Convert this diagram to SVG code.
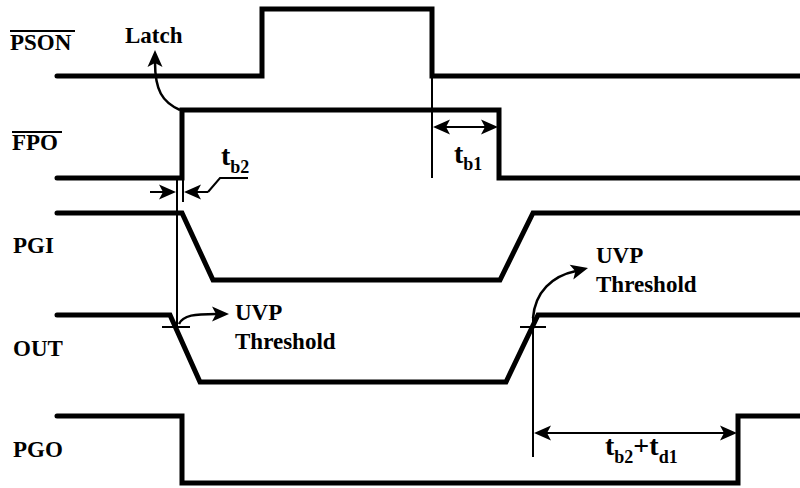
<svg xmlns="http://www.w3.org/2000/svg" xmlns:xlink="http://www.w3.org/1999/xlink" width="800" height="488" viewBox="0 0 800 488">
<style>
.w{fill:none;stroke:#000;stroke-width:5;stroke-linejoin:miter;stroke-linecap:round}
.t{fill:none;stroke:#000;stroke-width:2}
.c{fill:none;stroke:#000;stroke-width:2.5}
.lb{font-family:"Liberation Serif","Times New Roman",serif;font-weight:bold;font-size:23px;fill:#000}
.tl{font-family:"Liberation Serif","Times New Roman",serif;font-weight:bold;font-size:28px;fill:#000}
.sub{font-size:18px}
</style>
<defs>
<path id="head" d="M0,0 L-17,-7.5 L-13,0 L-17,7.5 z" fill="#000"/>
</defs>

<g id="PSON">
<text class="lb" x="10" y="50">PSON</text>
<line x1="10" y1="31" x2="75" y2="31" stroke="#000" stroke-width="2"/>
<polyline class="w" points="57,76 262,76 262,9 432,9 432,76 800,76"/>
</g>

<g id="FPO">
<text class="lb" x="12" y="150">FPO</text>
<line x1="12" y1="132" x2="62" y2="132" stroke="#000" stroke-width="2"/>
<polyline class="w" points="57,178 182,178 182,110 499,110 499,178 800,178"/>
</g>

<g id="PGI">
<text class="lb" x="13" y="253">PGI</text>
<polyline class="w" points="57,213 182,213 213,280 500,280 533,213 800,213"/>
</g>

<g id="OUT">
<text class="lb" x="13" y="356">OUT</text>
<polyline class="w" points="57,315 170,315 200,382 506,382 538,315 800,315"/>
</g>

<g id="PGO">
<text class="lb" x="13" y="457">PGO</text>
<polyline class="w" points="57,416 182,416 182,483 738,483 738,416 800,416"/>
</g>

<g id="connectors">
<text class="lb" x="125" y="43">Latch</text>
<path class="c" d="M180,110 C162,102 155,90 155,62"/>
<use xlink:href="#head" href="#head" transform="translate(155,50) rotate(-90)"/>

<line class="t" x1="432" y1="76" x2="432" y2="178"/>
<line class="t" x1="440" y1="127" x2="491" y2="127"/>
<use xlink:href="#head" href="#head" transform="translate(433,127) rotate(180)"/>
<use xlink:href="#head" href="#head" transform="translate(498,127)"/>
<text class="tl" x="454" y="163">t<tspan class="sub" dy="7">b1</tspan></text>

<line class="t" x1="177" y1="178" x2="177" y2="326"/>
<line class="t" x1="183" y1="178" x2="183" y2="202"/>
<line class="t" x1="150" y1="192" x2="170" y2="192"/>
<use xlink:href="#head" href="#head" transform="translate(176,192)"/>
<line class="t" x1="190" y1="192" x2="208" y2="192"/>
<use xlink:href="#head" href="#head" transform="translate(184,192) rotate(180)"/>
<polyline class="t" points="208,192 220,178 248,178"/>
<text class="tl" x="221" y="165">t<tspan class="sub" dy="8">b2</tspan></text>

<line class="t" x1="162" y1="327" x2="190" y2="327"/>
<path class="c" d="M179,324 C183,315 195,314 216,314"/>
<use xlink:href="#head" href="#head" transform="translate(229,314)"/>
<text class="lb" x="235" y="320">UVP</text>
<text class="lb" x="235" y="349">Threshold</text>

<line class="t" x1="520" y1="327" x2="546" y2="327"/>
<path class="c" d="M533,318 C535,292 552,276 576,271"/>
<use xlink:href="#head" href="#head" transform="translate(588,268) rotate(-14)"/>
<text class="lb" x="596" y="263">UVP</text>
<text class="lb" x="596" y="292">Threshold</text>

<line class="t" x1="533" y1="318" x2="533" y2="457"/>
<line class="t" x1="540" y1="433" x2="730" y2="433"/>
<use xlink:href="#head" href="#head" transform="translate(534,433) rotate(180)"/>
<use xlink:href="#head" href="#head" transform="translate(737,433)"/>
<text class="tl" x="605" y="455">t<tspan class="sub" dy="8">b2</tspan><tspan dy="-8">+t</tspan><tspan class="sub" dy="8">d1</tspan></text>
</g>
</svg>
